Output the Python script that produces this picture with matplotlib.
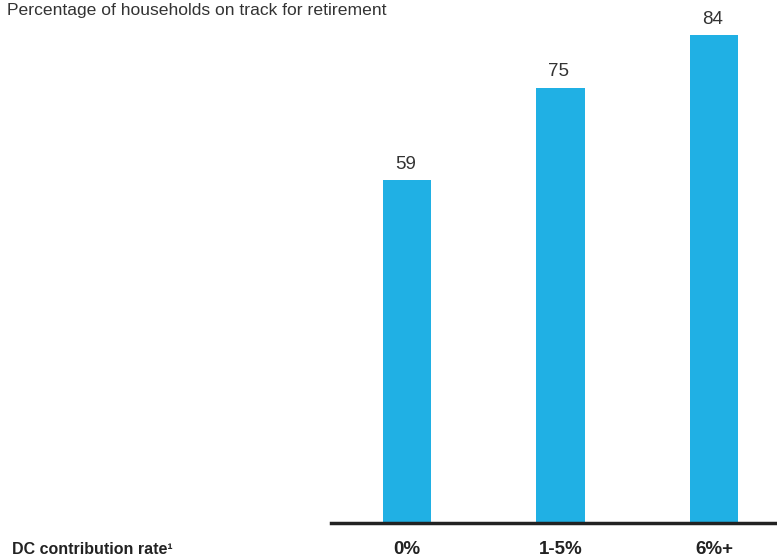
import matplotlib
matplotlib.use("Agg")
import matplotlib.pyplot as plt
from matplotlib import font_manager

names = {f.name for f in font_manager.fontManager.ttflist}
FAM = ["Liberation Sans Narrow"] if "Liberation Sans Narrow" in names else ["Liberation Sans"]
plt.rcParams['font.family'] = FAM + ["DejaVu Sans"]

categories = ["0%", "1-5%", "6%+"]
values = [59, 75, 84]
title = "Percentage of households on track for retirement"
xlabel = "DC contribution rate\u00b9"

W, H = 777, 558
fig = plt.figure(figsize=(W/100, H/100), dpi=100)
left, right, base = 331, 777, 522.5
ax = fig.add_axes([left/W, (H-base)/H, (right-left)/W, base/H])
x = list(range(len(values)))
ax.bar(x, values, width=0.313, color="#20B0E4")
ax.set_xlim(-0.495, 2.41)
ax.set_ylim(0, base/5.8)
for xi, v in zip(x, values):
    ax.text(xi - 0.01, v + 1.3, str(v), ha="center", va="bottom", fontsize=13.5, color="#333333")
for s in ["top", "right", "left"]:
    ax.spines[s].set_visible(False)
ax.spines["bottom"].set_linewidth(2.5)
ax.spines["bottom"].set_color("#222222")
ax.set_yticks([])
ax.set_xticks(x)
ax.set_xticklabels(categories, fontsize=13.5, fontweight="bold", color="#222222")
ax.tick_params(axis="x", length=0, pad=13.5)
fig.text(7/W, 1 - 11/H, title, ha="left", va="center", fontsize=12.6, color="#333333")
fig.text(12/W, 1 - 554/H, xlabel, ha="left", va="baseline", fontsize=11.5, fontweight="bold", color="#222222")
fig.savefig("out.png", dpi=100)
